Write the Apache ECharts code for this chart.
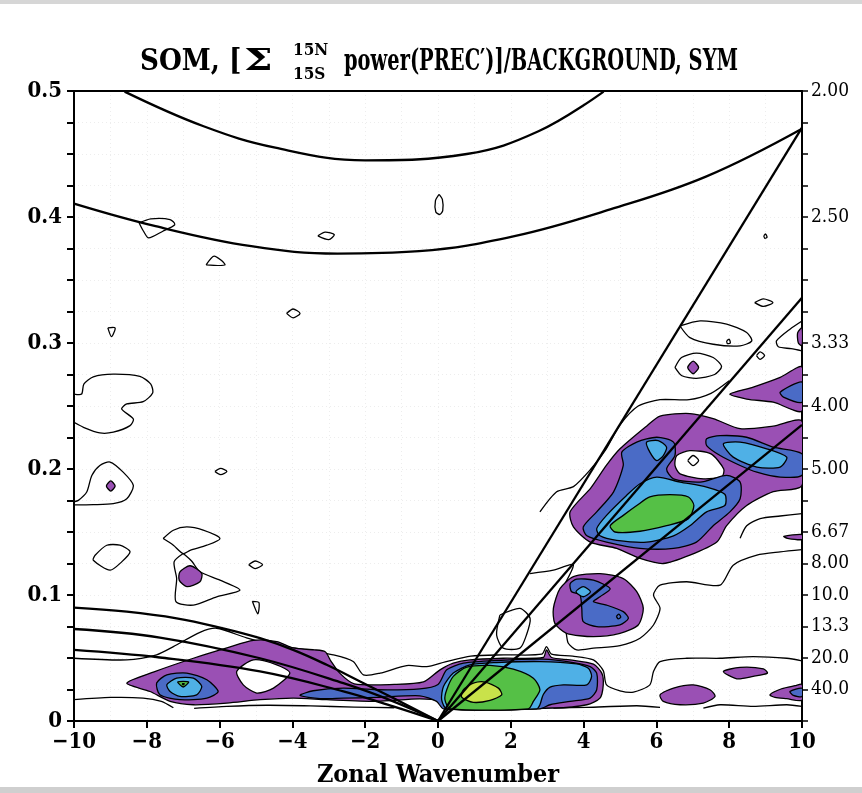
<!DOCTYPE html>
<html>
<head>
<meta charset="utf-8">
<script src="https://cdn.jsdelivr.net/npm/echarts/dist/echarts.min.js"></script>
<style>
  html, body { margin: 0; padding: 0; background: #fff; }
  #chart { width: 862px; height: 793px; }
</style>
</head>
<body>
<div id="chart"></div>
<script>
// ---- data: [zonal wavenumber, frequency (cpd)] ----
var kelvinLines = [
  [[0, 0], [10, 0.471]],
  [[0, 0], [10, 0.336]],
  [[0, 0], [10, 0.235]]
];
var rossbyCurves = [
  [[-10, 0.090], [-8.55, 0.0868], [-7.18, 0.0815], [-5.99, 0.0741], [-4.89, 0.0657], [-3.98, 0.0564], [-3.06, 0.0446], [-2.14, 0.0314], [-1.23, 0.0182], [0, 0]],
  [[-10, 0.073], [-7.64, 0.0662], [-4.89, 0.0498], [-2.60, 0.030], [-1.23, 0.0156], [0, 0]],
  [[-10, 0.0564], [-7.64, 0.0504], [-4.89, 0.0393], [-2.60, 0.0235], [-1.23, 0.0116], [0, 0]]
];
var gravityCurves = [
  [[-8.61, 0.4995], [-6.44, 0.472], [-4.47, 0.455], [-2.0, 0.445], [0.79, 0.450], [2.76, 0.468], [4.55, 0.4995]],
  [[-10, 0.4106], [-7.76, 0.3927], [-5.13, 0.3768], [-2.76, 0.371], [-0.52, 0.3729], [2.10, 0.3848], [4.73, 0.406], [7.36, 0.432], [10, 0.470]]
];

// lowest contour level: lines only
var level1Lines = [
  [[-10, 0.0498], [-8.55, 0.0485], [-7.73, 0.0525], [-7.27, 0.059], [-6.54, 0.0704], [-6.08, 0.0736], [-5.26, 0.066], [-4.43, 0.0599], [-3.61, 0.0564], [-2.88, 0.0525], [-2.33, 0.0472], [-2.05, 0.0366], [-1.59, 0.038], [-0.86, 0.044], [-0.31, 0.0432], [0.2, 0.047], [0.9, 0.0515], [1.8, 0.0525], [2.85, 0.053], [2.98, 0.059], [3.12, 0.053], [3.7, 0.0515], [4.27, 0.0485], [4.54, 0.040], [4.63, 0.0287], [5.0, 0.024], [5.37, 0.0229], [5.82, 0.0287], [5.92, 0.0393], [6.10, 0.0472], [6.83, 0.0498], [7.75, 0.0498], [8.66, 0.0511], [9.58, 0.0498], [10, 0.0477]],
  [[-10, 0.0169], [-9.0, 0.0187], [-8.1, 0.0182], [-7.6, 0.0156], [-7.27, 0.0105]],
  [[-6.7, 0.0100], [-5.8, 0.0116], [-4.7, 0.0125], [-3.5, 0.0120], [-2.3, 0.0110], [-1.2, 0.0105]],
  [[3.17, 0.0103], [4.09, 0.0108], [5.46, 0.0121], [6.10, 0.0108]],
  [[7.29, 0.0103], [7.75, 0.0129], [8.66, 0.0116], [9.58, 0.0129], [10, 0.0116]],
  [[-8.21, 0.3953], [-7.89, 0.3985], [-7.36, 0.398], [-7.23, 0.394], [-7.56, 0.3887], [-7.95, 0.3834], [-8.09, 0.3887], [-8.21, 0.3953]],
  [[0.03, 0.418], [0.12, 0.414], [0.13, 0.405], [0.05, 0.402], [-0.06, 0.404], [-0.07, 0.413], [0.03, 0.418]],
  [[-3.3, 0.385], [-3.1, 0.388], [-2.85, 0.386], [-3.0, 0.382], [-3.3, 0.385]],
  [[-6.37, 0.362], [-6.15, 0.369], [-5.85, 0.362], [-6.37, 0.362]],
  [[-4.16, 0.3235], [-3.98, 0.327], [-3.79, 0.3235], [-3.98, 0.320], [-4.16, 0.3235]],
  [[-9.07, 0.312], [-8.87, 0.312], [-8.97, 0.305], [-9.07, 0.312]],
  [[-10, 0.2595], [-9.79, 0.2595], [-9.73, 0.2674], [-9.47, 0.2732], [-8.92, 0.2753], [-8.19, 0.2735], [-7.89, 0.2674], [-7.84, 0.2603], [-8.10, 0.2534], [-8.55, 0.2516], [-8.69, 0.2476], [-8.37, 0.2397], [-8.46, 0.2344], [-8.92, 0.2292], [-9.29, 0.2286], [-9.74, 0.2331], [-10, 0.237]],
  [[-10, 0.174], [-9.88, 0.1751], [-9.65, 0.1817], [-9.51, 0.1949], [-9.29, 0.2028], [-9.01, 0.2055], [-8.65, 0.1975], [-8.37, 0.187], [-8.55, 0.1764], [-8.92, 0.1725], [-9.47, 0.1717], [-10, 0.1715]],
  [[-6.13, 0.198], [-5.97, 0.2005], [-5.8, 0.198], [-5.97, 0.1955], [-6.13, 0.198]],
  [[-7.55, 0.1448], [-7.27, 0.1514], [-6.90, 0.154], [-6.45, 0.1514], [-5.99, 0.1448], [-6.35, 0.1395], [-6.81, 0.1355], [-7.0, 0.1329], [-7.27, 0.1395], [-7.55, 0.1448]],
  [[-7.0, 0.1329], [-7.25, 0.1263], [-7.18, 0.1131], [-7.2, 0.0947], [-6.72, 0.092], [-6.08, 0.0986], [-5.44, 0.1039], [-5.99, 0.1118], [-6.54, 0.1184], [-6.77, 0.127], [-7.0, 0.1329]],
  [[-9.42, 0.1316], [-9.10, 0.1395], [-8.74, 0.1395], [-8.46, 0.1343], [-8.69, 0.1263], [-9.01, 0.1197], [-9.47, 0.1276], [-9.42, 0.1316]],
  [[-5.2, 0.124], [-5.02, 0.127], [-4.82, 0.124], [-5.02, 0.121], [-5.2, 0.124]],
  [[-5.1, 0.095], [-4.92, 0.094], [-4.95, 0.085], [-5.1, 0.095]],
  [[6.65, 0.3135], [7.20, 0.3175], [7.93, 0.315], [8.48, 0.3083], [8.62, 0.3017], [8.30, 0.2977], [7.56, 0.299], [6.92, 0.3043], [6.65, 0.3135]],
  [[6.51, 0.2806], [6.69, 0.2885], [7.10, 0.2919], [7.56, 0.2885], [7.79, 0.2814], [7.6, 0.275], [7.1, 0.272], [6.7, 0.274], [6.51, 0.2806]],
  [[8.7, 0.332], [8.94, 0.335], [9.2, 0.332], [8.94, 0.329], [8.7, 0.332]],
  [[8.75, 0.29], [8.85, 0.293], [8.97, 0.29], [8.85, 0.287], [8.75, 0.29]],
  [[10, 0.3175], [9.67, 0.311], [9.3, 0.3017], [9.35, 0.297], [9.7, 0.2955], [10, 0.2938]],
  [[8.95, 0.385], [9.0, 0.3865], [9.04, 0.384], [8.98, 0.383], [8.95, 0.385]],
  [[2.8, 0.166], [3.26, 0.182], [3.72, 0.186], [4.2, 0.2], [4.6, 0.215], [5.0, 0.235], [5.5, 0.25], [6.1, 0.255], [6.9, 0.255], [7.5, 0.26], [8.0, 0.27]],
  [[2.53, 0.117], [3.17, 0.1197], [3.72, 0.1237], [3.26, 0.0947], [3.44, 0.0841], [3.53, 0.0683], [3.58, 0.0617], [3.81, 0.0564], [4.27, 0.0578], [5.0, 0.0599], [5.55, 0.0657], [5.92, 0.0762], [6.10, 0.0894], [5.92, 0.10], [6.10, 0.1078], [6.83, 0.1105], [7.75, 0.1078], [8.11, 0.1237], [8.76, 0.1316], [9.40, 0.1342], [10, 0.136]],
  [[10, 0.1646], [9.40, 0.1627], [8.85, 0.1606], [8.48, 0.155], [8.3, 0.145]],
  [[1.70, 0.0841], [2.25, 0.0894], [2.53, 0.0815], [2.43, 0.0683], [2.25, 0.0578], [1.79, 0.0578], [1.61, 0.0683], [1.70, 0.0841]]
];

var purpleAreas = [
  [[-8.55, 0.030], [-7.8, 0.039], [-6.7, 0.050], [-5.8, 0.058], [-5.07, 0.064], [-4.43, 0.063], [-3.98, 0.058], [-3.4, 0.0565], [-3.1, 0.055], [-2.95, 0.048], [-2.7, 0.038], [-2.3, 0.0295], [-1.2, 0.029], [-0.4, 0.031], [0.055, 0.0406], [0.42, 0.0459], [0.88, 0.0485], [1.79, 0.0498], [2.89, 0.0504], [2.98, 0.0564], [3.12, 0.0504], [3.63, 0.0485], [4.27, 0.0451], [4.50, 0.038], [4.54, 0.0287], [4.45, 0.0182], [4.09, 0.0129], [3.17, 0.0103], [0.24, 0.0103], [0.05, 0.0156], [-0.5, 0.0175], [-1.68, 0.0156], [-3.06, 0.0169], [-3.98, 0.0182], [-4.89, 0.0169], [-5.80, 0.0142], [-6.72, 0.0129], [-7.36, 0.0156], [-7.91, 0.0234]],
  [[3.35, 0.105], [3.72, 0.1145], [4.45, 0.117], [5.09, 0.113], [5.46, 0.1026], [5.64, 0.0894], [5.50, 0.0762], [5.0, 0.0696], [4.27, 0.067], [3.53, 0.0696], [3.21, 0.0775], [3.17, 0.0894]],
  [[3.63, 0.166], [4.2, 0.185], [4.63, 0.203], [5.0, 0.216], [5.73, 0.234], [6.10, 0.242], [6.92, 0.244], [7.56, 0.24], [8.30, 0.232], [9.21, 0.234], [10, 0.238], [10, 0.187], [9.21, 0.182], [8.48, 0.171], [7.93, 0.155], [7.66, 0.142], [6.92, 0.1316], [6.19, 0.125], [5.55, 0.129], [4.91, 0.137], [4.18, 0.142], [3.72, 0.154]],
  [[8.02, 0.2595], [8.66, 0.265], [9.40, 0.2727], [10, 0.281], [10, 0.246], [9.21, 0.253], [8.48, 0.2555]],
  [[-9.11, 0.1865], [-8.99, 0.1905], [-8.87, 0.1865], [-8.99, 0.1825]],
  [[-7.09, 0.1184], [-6.81, 0.1232], [-6.49, 0.1171], [-6.54, 0.1105], [-6.90, 0.1066], [-7.11, 0.1118]],
  [[6.86, 0.2806], [7.01, 0.2856], [7.16, 0.2806], [7.01, 0.2756]],
  [[6.10, 0.0208], [6.47, 0.0261], [7.01, 0.0287], [7.47, 0.0248], [7.61, 0.0195], [7.29, 0.0142], [6.65, 0.0129], [6.19, 0.0156]],
  [[7.84, 0.0393], [8.30, 0.0425], [8.94, 0.0414], [9.05, 0.038], [8.66, 0.0354], [8.21, 0.0335]],
  [[9.12, 0.0208], [9.44, 0.0256], [9.81, 0.028], [10, 0.029], [10, 0.0165], [9.58, 0.0177], [9.26, 0.0187]],
  [[10, 0.312], [9.88, 0.308], [9.9, 0.300], [10, 0.298]],
  [[9.5, 0.1465], [10, 0.148], [10, 0.144], [9.6, 0.145]]
];
var purpleHoles = [
  [[-5.53, 0.0393], [-5.07, 0.0485], [-4.43, 0.0446], [-4.07, 0.038], [-4.52, 0.0261], [-4.98, 0.0222], [-5.35, 0.0287]],
  [[6.56, 0.2107], [6.92, 0.2146], [7.5, 0.212], [7.85, 0.200], [7.8, 0.194], [7.29, 0.1922], [6.65, 0.1962], [6.51, 0.2028]]
];
var blueAreas = [
  [[-7.73, 0.0301], [-7.45, 0.0366], [-6.90, 0.038], [-6.35, 0.0327], [-6.04, 0.0234], [-6.35, 0.0182], [-7.09, 0.0169], [-7.64, 0.0208]],
  [[-3.79, 0.0203], [-3.43, 0.024], [-2.60, 0.0261], [-1.68, 0.0248], [-0.5, 0.0255], [0.0, 0.029], [0.24, 0.0406], [0.70, 0.0459], [1.61, 0.048], [2.89, 0.0491], [3.72, 0.0464], [4.18, 0.0432], [4.36, 0.038], [4.36, 0.0248], [4.18, 0.0182], [3.63, 0.0156], [3.08, 0.0129], [2.80, 0.0097], [0.15, 0.0097], [-0.04, 0.0156], [-0.5, 0.0200], [-1.68, 0.0187], [-2.60, 0.0182], [-3.24, 0.0177]],
  [[3.63, 0.109], [3.81, 0.1126], [4.27, 0.1118], [4.73, 0.105], [4.45, 0.0986], [4.27, 0.0947], [4.63, 0.092], [5.09, 0.0868], [5.23, 0.0815], [5.0, 0.0762], [4.36, 0.0749], [3.99, 0.0788], [3.95, 0.0894], [3.90, 0.10], [3.67, 0.1026]],
  [[3.99, 0.154], [4.36, 0.166], [4.82, 0.1817], [5.09, 0.2028], [5.05, 0.2134], [5.46, 0.2213], [6.01, 0.2252], [6.47, 0.2213], [6.51, 0.2107], [6.28, 0.20], [6.47, 0.1922], [7.20, 0.1896], [7.93, 0.195], [8.30, 0.1896], [8.30, 0.1764], [8.02, 0.166], [7.56, 0.155], [7.10, 0.142], [6.47, 0.137], [5.55, 0.137], [4.63, 0.142], [4.09, 0.147]],
  [[7.38, 0.224], [7.75, 0.2265], [8.48, 0.2252], [9.21, 0.2173], [10, 0.212], [10, 0.195], [9.40, 0.1936], [8.76, 0.1975], [8.30, 0.2028], [7.75, 0.2107], [7.38, 0.2186]],
  [[9.4, 0.261], [10, 0.269], [10, 0.253], [9.49, 0.257]],
  [[9.67, 0.0235], [10, 0.026], [10, 0.0195], [9.76, 0.0203]]
];
var lightBlueAreas = [
  [[-7.45, 0.0287], [-7.18, 0.034], [-6.72, 0.034], [-6.49, 0.0274], [-6.63, 0.0208], [-7.09, 0.0195], [-7.36, 0.0234]],
  [[0.15, 0.0274], [0.42, 0.038], [0.88, 0.0446], [1.61, 0.0464], [2.80, 0.0472], [3.81, 0.0453], [4.13, 0.0419], [4.22, 0.0354], [4.09, 0.0287], [3.45, 0.0287], [3.08, 0.0269], [2.89, 0.0208], [2.80, 0.0129], [2.71, 0.0097], [0.24, 0.0097], [0.10, 0.0169]],
  [[3.79, 0.1026], [3.99, 0.1066], [4.19, 0.1026], [3.99, 0.0986]],
  [[5.73, 0.2213], [6.05, 0.2226], [6.28, 0.2173], [6.19, 0.2107], [6.01, 0.2067], [5.82, 0.2134]],
  [[7.84, 0.22], [8.30, 0.2213], [9.03, 0.216], [9.58, 0.2094], [9.40, 0.2015], [8.76, 0.2015], [8.11, 0.2094]],
  [[4.36, 0.1527], [4.63, 0.1632], [5.18, 0.179], [5.55, 0.1883], [6.01, 0.1936], [6.65, 0.1896], [7.38, 0.1857], [7.88, 0.180], [7.88, 0.171], [7.38, 0.166], [6.92, 0.155], [6.47, 0.147], [5.73, 0.142], [4.91, 0.1434], [4.45, 0.147]]
];
var greenAreas = [
  [[-7.15, 0.031], [-6.85, 0.031], [-7.0, 0.027]],
  [[0.24, 0.0248], [0.42, 0.0354], [0.79, 0.0427], [1.43, 0.0441], [2.07, 0.0411], [2.62, 0.034], [2.80, 0.0248], [2.62, 0.0156], [2.48, 0.0097], [0.33, 0.0097], [0.19, 0.0169]],
  [[4.73, 0.155], [5.09, 0.1632], [5.46, 0.171], [5.82, 0.1778], [6.37, 0.1796], [6.88, 0.1778], [7.03, 0.171], [6.88, 0.1606], [6.28, 0.155], [5.55, 0.1506], [4.86, 0.150]]
];
var yellowAreas = [
  [[0.70, 0.0248], [0.97, 0.030], [1.29, 0.0309], [1.66, 0.0261], [1.75, 0.0208], [1.43, 0.0164], [0.97, 0.0148], [0.65, 0.019]]
];
// tiny contours lying inside filled areas
var innerLines = [
  [[6.86, 0.2067], [7.01, 0.2107], [7.16, 0.2067], [7.01, 0.2027], [6.86, 0.2067]],
  [[7.93, 0.3017], [8.0, 0.303], [8.03, 0.300], [7.95, 0.2995], [7.93, 0.3017]],
  [[4.9, 0.083], [4.97, 0.0848], [5.02, 0.0825], [4.95, 0.081], [4.9, 0.083]],
  [[-7.03, 0.0296], [-6.97, 0.0296], [-7.0, 0.0286], [-7.03, 0.0296]]
];

var rightTickFreqs = [0.5, 0.4, 0.3, 0.25, 0.2, 0.15, 0.125, 0.1, 0.075, 0.05, 0.025];
var rightTickLabels = ['2.00', '2.50', '3.33', '4.00', '5.00', '6.67', '8.00', '10.0', '13.3', '20.0', '40.0'];

// ---- chart ----
var FONT = "'DejaVu Serif Condensed', 'DejaVu Serif', serif";
var fills = ['none', '#9a50b4', '#4a6bc6', '#4fb0e6', '#55c046', '#c9e24a'];
var chart = echarts.init(document.getElementById('chart'));

function shapeSeries(name, shapes, fill, closed) {
  return {
    name: name,
    type: 'custom',
    coordinateSystem: 'cartesian2d',
    clip: true,
    silent: true,
    data: shapes.map(function (s) { return s[0]; }),
    renderItem: function (params, api) {
      var pts = shapes[params.dataIndex].map(function (p) { return api.coord(p); });
      return {
        type: closed ? 'polygon' : 'polyline',
        shape: { points: pts, smooth: 0.25 },
        style: { fill: closed ? fill : 'none', stroke: '#000', lineWidth: 1.3 }
      };
    }
  };
}

function curveSeries(curves) {
  return curves.map(function (c) {
    return {
      type: 'line', data: c, smooth: 0.4, showSymbol: false, silent: true,
      lineStyle: { color: '#000', width: 2.3 }, z: 10
    };
  });
}

function fmtRight(v) {
  var i = rightTickFreqs.findIndex(function (f) { return Math.abs(f - v) < 1e-6; });
  return i >= 0 ? rightTickLabels[i] : '';
}

function titleText(str, x, y, size, sx) {
  return {
    type: 'text', x: x, y: y, scaleX: sx, silent: true,
    style: { text: str, font: 'bold ' + size + 'px ' + FONT, fill: '#000', verticalAlign: 'middle' }
  };
}

var gridDots = { show: true, lineStyle: { color: '#ededed', type: [1, 3], width: 1 } };

var option = {
  backgroundColor: '#fff',
  animation: false,
  grid: { left: 74, right: 60, top: 91, bottom: 70 },
  graphic: [
    { type: 'rect', shape: { x: 0, y: 0, width: 862, height: 4 }, style: { fill: '#d6d6d6' } },
    { type: 'rect', shape: { x: 0, y: 787, width: 862, height: 6 }, style: { fill: '#cfcfcf' } },
    titleText('SOM, [', 140, 62, 30, 0.97),
    titleText('Σ', 244, 62, 30, 1.5),
    titleText('15N', 293, 51, 17, 1),
    titleText('15S', 293, 75, 17, 1),
    titleText('power(PREC′)]/BACKGROUND, SYM', 344, 62, 30, 0.72)
  ],
  xAxis: [{
    type: 'value', min: -10, max: 10, interval: 2,
    name: 'Zonal Wavenumber', nameLocation: 'middle', nameGap: 42,
    nameTextStyle: { fontFamily: FONT, fontWeight: 'bold', fontSize: 25, color: '#000' },
    axisLine: { onZero: false, lineStyle: { color: '#000', width: 2 } },
    axisTick: { length: 7, lineStyle: { color: '#000', width: 2 } },
    axisLabel: { fontFamily: FONT, fontWeight: 'bold', fontSize: 22, color: '#000', margin: 10,
      formatter: function (v) { return String(v).replace('-', '−'); } },
    splitLine: gridDots,
    minorTick: { show: false, splitNumber: 2 },
    minorSplitLine: gridDots
  }, {
    type: 'value', min: -10, max: 10, interval: 2, position: 'top',
    axisLine: { onZero: false, lineStyle: { color: '#000', width: 2 } },
    axisTick: { show: false }, axisLabel: { show: false }, splitLine: { show: false }
  }],
  yAxis: [{
    type: 'value', min: 0, max: 0.5, interval: 0.025, position: 'left',
    axisLine: { show: true, onZero: false, lineStyle: { color: '#000', width: 2 } },
    axisTick: { length: 7, lineStyle: { color: '#000', width: 2 } },
    axisLabel: { fontFamily: FONT, fontWeight: 'bold', fontSize: 22, color: '#000', margin: 12,
      formatter: function (v) {
        var m = Math.round(v * 1000);
        return m % 100 === 0 ? String(m / 1000) : '';
      } },
    splitLine: gridDots
  }, {
    type: 'value', min: 0, max: 0.5, interval: 0.025, position: 'right',
    axisLine: { show: true, onZero: false, lineStyle: { color: '#000', width: 2 } },
    axisTick: { length: 6, lineStyle: { color: '#000', width: 1.5 } },
    axisLabel: { fontFamily: FONT, fontSize: 19, color: '#000', margin: 9, formatter: fmtRight },
    splitLine: { show: false }
  }],
  series: [].concat(
    [shapeSeries('level1', level1Lines, 'none', false)],
    [shapeSeries('purple', purpleAreas, fills[1], true)],
    [shapeSeries('holes', purpleHoles, '#fff', true)],
    [shapeSeries('blue', blueAreas, fills[2], true)],
    [shapeSeries('lightblue', lightBlueAreas, fills[3], true)],
    [shapeSeries('green', greenAreas, fills[4], true)],
    [shapeSeries('yellow', yellowAreas, fills[5], true)],
    [shapeSeries('inner', innerLines, 'none', false)],
    curveSeries(kelvinLines),
    curveSeries(rossbyCurves),
    curveSeries(gravityCurves)
  )
};
chart.setOption(option);
</script>
</body>
</html>
